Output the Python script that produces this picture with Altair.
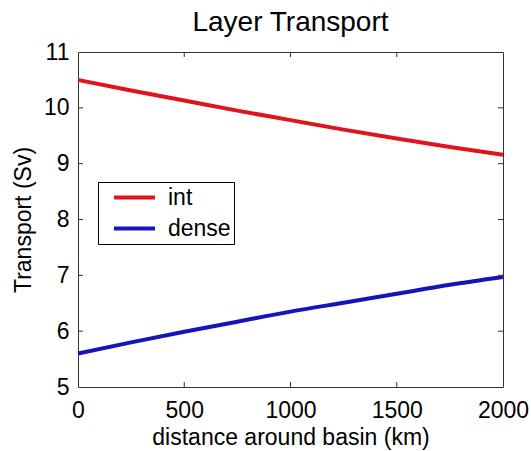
import altair as alt
import pandas as pd

# Transport of each layer along the basin (Sv)
distance_km = [0, 250, 500, 750, 1000, 1250, 1500, 1750, 2000]
int_sv = [10.50, 10.31, 10.13, 9.95, 9.78, 9.61, 9.45, 9.30, 9.16]
dense_sv = [5.60, 5.80, 5.99, 6.17, 6.35, 6.51, 6.67, 6.83, 6.97]

layers = ["int", "dense"]
layer_colors = ["#e0141c", "#1414b8"]

x_ticks = [0, 500, 1000, 1500, 2000]
y_ticks = [5, 6, 7, 8, 9, 10, 11]
x_inner_ticks = [500, 1000, 1500]
y_inner_ticks = [6, 7, 8, 9, 10]

W, H = 425, 335
FONT = "Liberation Sans"
TICK_LEN = 5
BOX = "#333333"

rows = []
for name, vals in zip(layers, [int_sv, dense_sv]):
    for d, v in zip(distance_km, vals):
        rows.append({"distance": d, "transport": v, "layer": name})
df = pd.DataFrame(rows)

x_scale = alt.Scale(domain=[0, 2000], nice=False, zero=False)
y_scale = alt.Scale(domain=[5, 11], nice=False, zero=False)

x_axis = alt.Axis(values=x_ticks, format="d", title="distance around basin (km)",
                  ticks=False, domain=False, grid=False, labelFlush=False,
                  labelOverlap=False, labelPadding=12, titlePadding=4)
y_axis = alt.Axis(values=y_ticks, format="d", title="Transport (Sv)",
                  ticks=False, domain=False, grid=False, labelFlush=False,
                  labelOverlap=False, labelPadding=9, titlePadding=8)

x_enc = alt.X("distance:Q", scale=x_scale, axis=x_axis)
y_enc = alt.Y("transport:Q", scale=y_scale, axis=y_axis)

lines = alt.Chart(df).mark_line(strokeWidth=4, interpolate="monotone").encode(
    x=x_enc,
    y=y_enc,
    color=alt.Color("layer:N", sort=layers,
                    scale=alt.Scale(domain=layers, range=layer_colors),
                    legend=alt.Legend(title=None, orient="none", legendX=20, legendY=130,
                                      symbolType="M-2,0H2", symbolSize=420,
                                      symbolStrokeWidth=4, strokeColor="black",
                                      fillColor="white", padding=3, symbolOffset=21,
                                      rowPadding=6,
                                      labelFont=FONT, labelFontSize=23,
                                      labelColor="black", labelOffset=21)),
)

# inward-pointing tick marks on all four sides of the box
xt = pd.DataFrame({"distance": x_inner_ticks})
yt = pd.DataFrame({"transport": y_inner_ticks})

tick_bottom = alt.Chart(xt).mark_rule(color=BOX, strokeWidth=1).encode(
    x=x_enc, y=alt.value(H), y2=alt.value(H - TICK_LEN))
tick_top = alt.Chart(xt).mark_rule(color=BOX, strokeWidth=1).encode(
    x=x_enc, y=alt.value(0), y2=alt.value(TICK_LEN))
tick_left = alt.Chart(yt).mark_rule(color=BOX, strokeWidth=1).encode(
    y=y_enc, x=alt.value(0), x2=alt.value(TICK_LEN))
tick_right = alt.Chart(yt).mark_rule(color=BOX, strokeWidth=1).encode(
    y=y_enc, x=alt.value(W), x2=alt.value(W - TICK_LEN))

chart = alt.layer(lines, tick_bottom, tick_top, tick_left, tick_right).properties(
    width=W, height=H,
    background="white",
    title=alt.TitleParams("Layer Transport", font=FONT, fontSize=28,
                          fontWeight="normal", color="black", anchor="middle", offset=4),
    padding={"left": 78, "top": 52, "right": 28, "bottom": 64},
    autosize=alt.AutoSizeParams(type="none"),
).configure_view(
    stroke=BOX, strokeWidth=1
).configure_axis(
    labelFont=FONT, labelFontSize=23, labelColor="black",
    titleFont=FONT, titleFontSize=23, titleFontWeight="normal", titleColor="black",
)

chart.save("out.html", embed_options={"renderer": "svg", "actions": False})
